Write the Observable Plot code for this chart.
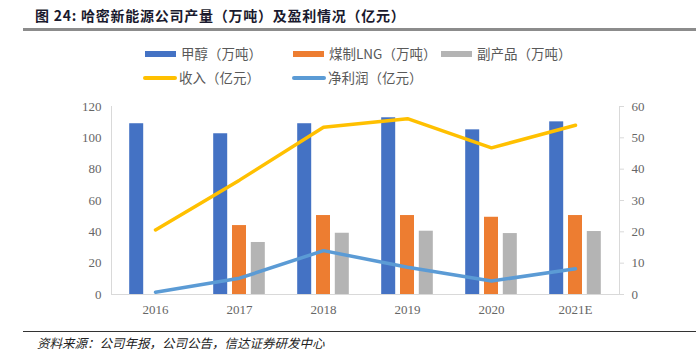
<!DOCTYPE html>
<html><head><meta charset="utf-8">
<script src="https://cdn.jsdelivr.net/npm/d3@7"></script>
<script src="https://cdn.jsdelivr.net/npm/@observablehq/plot@0.6"></script>
<style>
body{margin:0;background:#fff;}
#wrap{position:relative;width:696px;height:355px;overflow:hidden;font-family:"Noto Sans CJK SC",sans-serif;}
#title{position:absolute;left:35px;top:5px;font-size:14px;font-weight:bold;color:#1a1a2e;white-space:nowrap;letter-spacing:0.75px;}
#tbar{position:absolute;left:23px;top:28px;width:673px;height:3px;background:#8c8c8c;}
.lg{position:absolute;font-size:13.5px;color:#595959;white-space:nowrap;line-height:16px;}
.sw{position:absolute;}
#foot{position:absolute;left:37px;top:333px;font-size:12.5px;font-style:italic;color:#222;white-space:nowrap;}
#fline{position:absolute;left:23px;top:331px;width:673px;height:1px;background:#333;}
#chart{position:absolute;left:0;top:90px;}
</style></head>
<body><div id="wrap">
<div id="title">图 24: 哈密新能源公司产量（万吨）及盈利情况（亿元）</div>
<div id="tbar"></div>
<div id="legend"></div>
<div id="chart"></div>
<div id="fline"></div>
<div id="foot">资料来源：公司年报，公司公告，信达证券研发中心</div>
</div>
<script>
const years = ["2016","2017","2018","2019","2020","2021E"];
const methanol = [109, 102.6, 109, 112.8, 105.1, 110.2];
const lng = [null, 44, 50.4, 50.4, 49.3, 50.4];
const byproduct = [null, 33.2, 39.1, 40.4, 38.9, 40.2];
const revenue = [20.6, 36.5, 53.4, 56.1, 46.8, 54.0];
const profit = [0.7, 5.2, 14.0, 8.7, 4.3, 8.2];
const leftTicks = [0,20,40,60,80,100,120];
const rightTicks = [0,10,20,30,40,50,60];

const legendItems = [
  {label:"甲醇（万吨）", color:"#4472C4", type:"bar", x:145, y:54},
  {label:"煤制LNG（万吨）", color:"#ED7D31", type:"bar", x:293, y:54},
  {label:"副产品（万吨）", color:"#B4B4B4", type:"bar", x:441, y:54},
  {label:"收入（亿元）", color:"#FFC000", type:"line", x:143, y:78},
  {label:"净利润（亿元）", color:"#5B9BD5", type:"line", x:292, y:78}
];
const lg = document.getElementById("legend");
for (const it of legendItems) {
  const s = document.createElement("div");
  s.className = "sw";
  if (it.type === "bar") {
    s.style.cssText = `left:${it.x}px;top:${it.y-3}px;width:31px;height:6px;background:${it.color}`;
  } else {
    s.style.cssText = `left:${it.x}px;top:${it.y-2}px;width:34px;height:4px;border-radius:2px;background:${it.color}`;
  }
  lg.appendChild(s);
  const t = document.createElement("div");
  t.className = "lg";
  t.textContent = it.label;
  t.style.left = (it.x + 36) + "px";
  t.style.top = (it.y - 9) + "px";
  lg.appendChild(t);
}

const rows = years.map((y,i)=>({year:y, methanol:methanol[i], lng:lng[i], byproduct:byproduct[i], revenue:revenue[i], profit:profit[i]}));
const ratio = 120/60;
const tickStyle = {fontFamily:"'Liberation Serif', serif", fontSize:13, fill:"#666", letterSpacing:"1.5px"};

const plot = Plot.plot({
  width:696, height:230,
  marginTop:16, marginBottom:26, marginLeft:111, marginRight:77,
  x:{type:"band", domain:years, padding:0},
  y:{domain:[0,120]},
  style:{background:"transparent"},
  marks:[
    Plot.frame({anchor:"left", stroke:"#d9d9d9"}),
    Plot.frame({anchor:"right", stroke:"#d9d9d9"}),
    Plot.ruleY([0], {stroke:"#d9d9d9"}),
    Plot.barY(rows.filter(d=>d.methanol!=null), {x:"year", y:"methanol", fill:"#4472C4", insetLeft:35, insetRight:35, dx:-18.8}),
    Plot.barY(rows.filter(d=>d.lng!=null), {x:"year", y:"lng", fill:"#ED7D31", insetLeft:35, insetRight:35}),
    Plot.barY(rows.filter(d=>d.byproduct!=null), {x:"year", y:"byproduct", fill:"#B4B4B4", insetLeft:35, insetRight:35, dx:18.8}),
    Plot.line(rows, {x:"year", y:d=>d.revenue*ratio, stroke:"#FFC000", strokeWidth:3.5, curve:"linear"}),
    Plot.line(rows, {x:"year", y:d=>d.profit*ratio, stroke:"#5B9BD5", strokeWidth:3.5, curve:"linear"}),
    Plot.axisY(leftTicks, {anchor:"left", tickSize:0, tickPadding:10, label:null, ...tickStyle}),
    Plot.axisY(rightTicks.map(v=>v*ratio), {anchor:"right", tickSize:4, tickPadding:8, stroke:"#d9d9d9", tickFormat:d=>String(d/ratio), label:null, ...tickStyle}),
    Plot.axisX({anchor:"bottom", tickSize:0, tickPadding:10, label:null, ...tickStyle})
  ]
});
document.getElementById("chart").appendChild(plot);
</script>
</body></html>
